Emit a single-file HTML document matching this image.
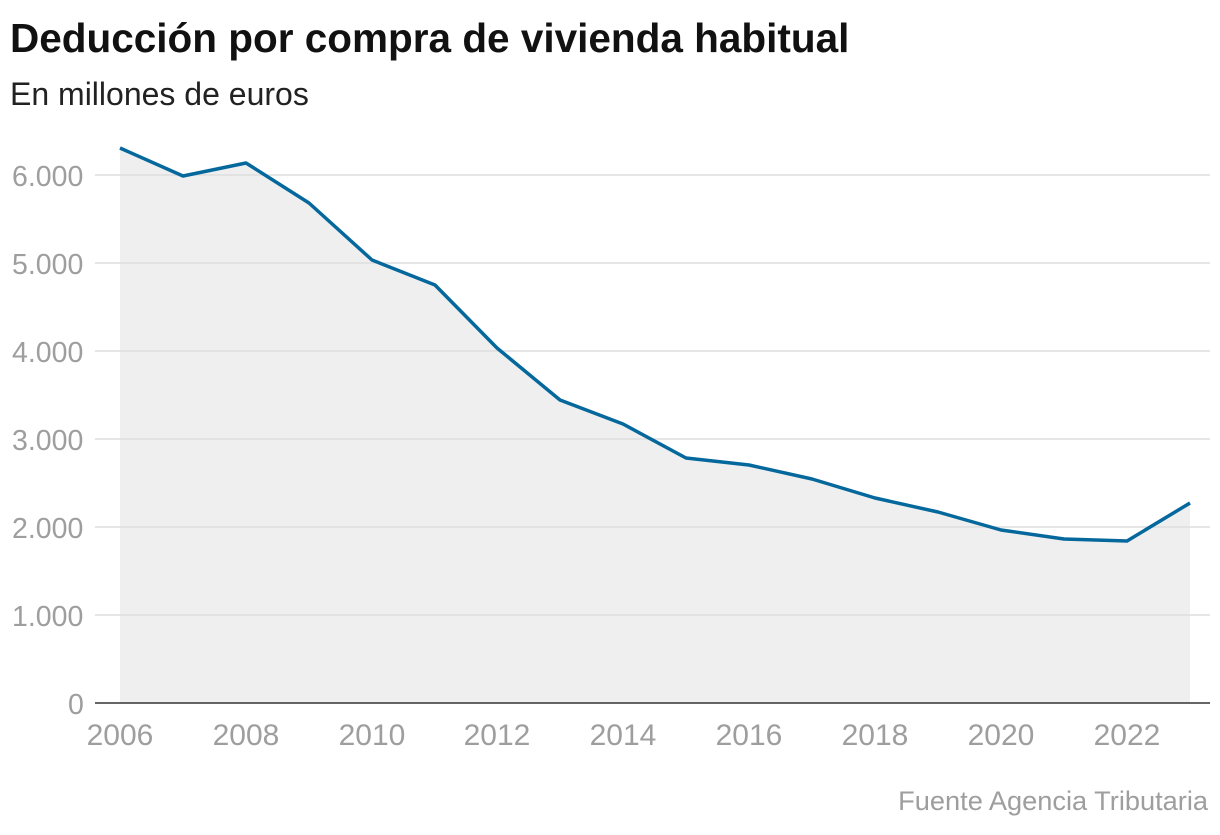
<!DOCTYPE html>
<html><head><meta charset="utf-8"><style>
body{margin:0;background:#fff;width:1220px;height:830px;overflow:hidden;font-family:"Liberation Sans",sans-serif;}
</style></head><body>
<svg width="1220" height="830" xmlns="http://www.w3.org/2000/svg" font-family="Liberation Sans, sans-serif">
<text x="10" y="52" font-size="40.5" font-weight="bold" fill="#111">Deducción por compra de vivienda habitual</text>
<text x="10" y="105" font-size="32" fill="#222">En millones de euros</text>
<polygon fill="#efefef" points="120,148 183,176 246,163 309,203 372,260 435,285 497,348 560,400 623,424 686,458 749,465 812,479 875,498 938,512 1001,530 1064,539 1127,541 1190,503 1190,703 120,703"/>
<g stroke="#dddddd" stroke-width="1.5">
<line x1="95" x2="1210" y1="175" y2="175"/><line x1="95" x2="1210" y1="263" y2="263"/>
<line x1="95" x2="1210" y1="351" y2="351"/><line x1="95" x2="1210" y1="439" y2="439"/>
<line x1="95" x2="1210" y1="527" y2="527"/><line x1="95" x2="1210" y1="615" y2="615"/>
</g>
<line x1="95" x2="1210" y1="703" y2="703" stroke="#333" stroke-width="1.5"/>
<polyline fill="none" stroke="#05689d" stroke-width="3.5" stroke-linejoin="round" points="120,148 183,176 246,163 309,203 372,260 435,285 497,348 560,400 623,424 686,458 749,465 812,479 875,498 938,512 1001,530 1064,539 1127,541 1190,503"/>
<g font-size="28.5" fill="#9e9e9e">
<text x="12" y="186">6.000</text><text x="12" y="274">5.000</text><text x="12" y="362">4.000</text>
<text x="12" y="450">3.000</text><text x="12" y="538">2.000</text><text x="12" y="626">1.000</text>
<text x="68" y="714">0</text>
</g>
<g font-size="30" fill="#9e9e9e" text-anchor="middle">
<text x="120" y="745">2006</text><text x="246" y="745">2008</text><text x="372" y="745">2010</text>
<text x="497" y="745">2012</text><text x="623" y="745">2014</text><text x="749" y="745">2016</text>
<text x="875" y="745">2018</text><text x="1001" y="745">2020</text><text x="1127" y="745">2022</text>
</g>
<text x="1208" y="810" font-size="27.2" fill="#9e9e9e" text-anchor="end">Fuente Agencia Tributaria</text>
</svg>
</body></html>
